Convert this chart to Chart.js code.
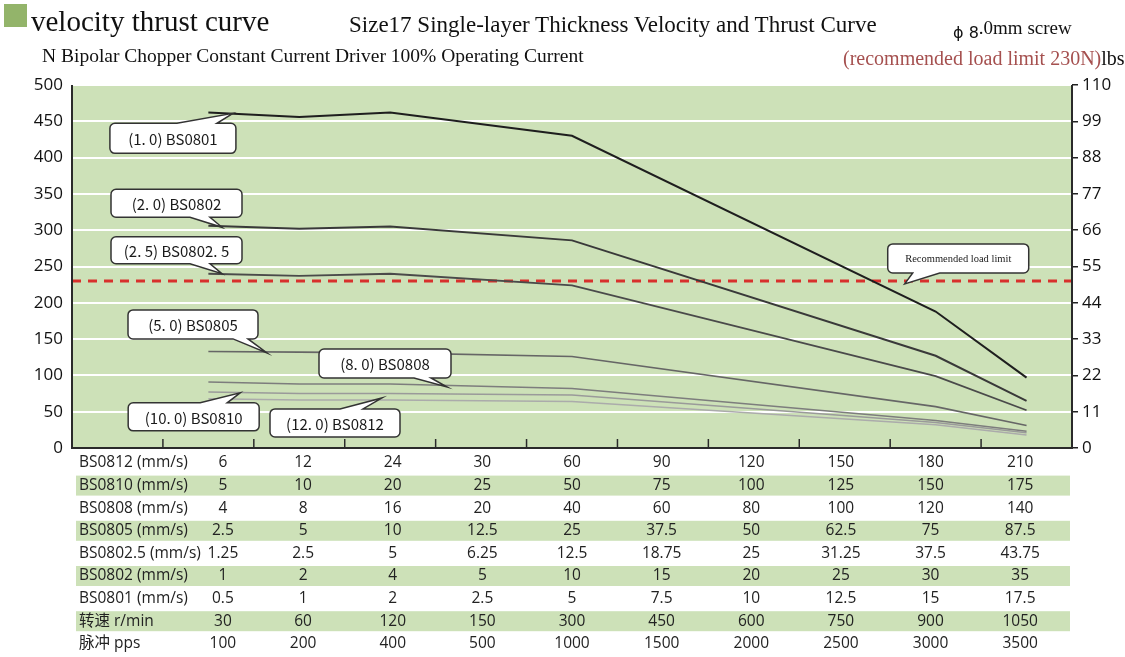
<!DOCTYPE html>
<html>
<head>
<meta charset="utf-8">
<script src="https://cdn.jsdelivr.net/npm/chart.js@4.4.1/dist/chart.umd.min.js"></script>
<style>
    html, body { margin: 0; padding: 0; background: #fff; }
    #wrap { position: relative; width: 1125px; height: 657px; overflow: hidden; }
    #chart { position: absolute; left: 0; top: 0; }
    .t { position: absolute; white-space: nowrap; line-height: 1; color: #111;
         font-family: "Liberation Serif", "Times New Roman", serif; }
    #sq { position: absolute; left: 4px; top: 4px; width: 23px; height: 23px; background: #93b46a; }
</style>
</head>
<body>
<div id="wrap">
    <canvas id="chart" width="1125" height="657"></canvas>
    <div id="sq"></div>
    <div class="t" style="left:31px; top:7px; font-size:29px;">velocity thrust curve</div>
    <div class="t" style="left:349px; top:13px; font-size:23px;">Size17 Single-layer Thickness Velocity and Thrust Curve</div>
    <div class="t" style="left:42px; top:46px; font-size:19.5px;">N Bipolar Chopper Constant Current Driver 100% Operating Current</div>
    <div class="t" style="left:953px; top:18px; font-size:19px;"><span style="font-family:'DejaVu Sans'; font-size:16px; position:relative; top:4px;">ϕ 8</span>.0mm screw</div>
    <div class="t" style="left:843px; top:48px; font-size:20px;"><span style="color:#a5504f;">(recommended load limit 230N)</span>lbs</div>
</div>
<script>
// ---- data ----
const xIndex = [0, 1, 2, 3, 4, 5, 6, 7, 8, 9];

// thrust (N) at each speed column, null where the curve has no vertex
const thrustBS0801  = [462, 456, 462, null, 430, null, null, null, 188, 97];
const thrustBS0802  = [306, 302, 305, null, 286, null, null, null, 127, 65];
const thrustBS08025 = [240, 237, 240, null, 224, null, null, null, 99, 52];
const thrustBS0805  = [133, 132, 131, null, 126, null, null, null, 57, 31];
const thrustBS0808  = [91, 88, 88, null, 82, null, null, null, 38, 23];
const thrustBS0810  = [77, 75, 75, null, 73, null, null, null, 35, 21];
const thrustBS0812  = [68, 66, 66, null, 64, null, null, null, 32, 18];
const loadLimitN = 230;

const leftTicks = [0, 50, 100, 150, 200, 250, 300, 350, 400, 450, 500];
const rightTicks = [0, 11, 22, 33, 44, 55, 66, 77, 88, 99, 110];

// table below the plot
const rowLabels = ["BS0812 (mm/s)", "BS0810 (mm/s)", "BS0808 (mm/s)", "BS0805 (mm/s)",
    "BS0802.5 (mm/s)", "BS0802 (mm/s)", "BS0801 (mm/s)", "转速 r/min", "脉冲 pps"];
const speedBS0812  = [6, 12, 24, 30, 60, 90, 120, 150, 180, 210];
const speedBS0810  = [5, 10, 20, 25, 50, 75, 100, 125, 150, 175];
const speedBS0808  = [4, 8, 16, 20, 40, 60, 80, 100, 120, 140];
const speedBS0805  = [2.5, 5, 10, 12.5, 25, 37.5, 50, 62.5, 75, 87.5];
const speedBS08025 = [1.25, 2.5, 5, 6.25, 12.5, 18.75, 25, 31.25, 37.5, 43.75];
const speedBS0802  = [1, 2, 4, 5, 10, 15, 20, 25, 30, 35];
const speedBS0801  = [0.5, 1, 2, 2.5, 5, 7.5, 10, 12.5, 15, 17.5];
const rpm          = [30, 60, 120, 150, 300, 450, 600, 750, 900, 1050];
const pps          = [100, 200, 400, 500, 1000, 1500, 2000, 2500, 3000, 3500];
const tableRows = [speedBS0812, speedBS0810, speedBS0808, speedBS0805, speedBS08025,
    speedBS0802, speedBS0801, rpm, pps];

const GREEN = "#cde1b8";

// callouts: tip in data units, box offset in px from the tip
const callouts = [
    { text: "(1. 0) BS0801",   x: 0.27, y: 461, dx: -123, dy: 10,  w: 126, h: 30, side: "top",    b1: 67, b2: 107 },
    { text: "(2. 0) BS0802",   x: 0.15, y: 304, dx: -111, dy: -38, w: 131, h: 28, side: "bottom", b1: 79, b2: 99 },
    { text: "(2. 5) BS0802. 5", x: 0.15, y: 240, dx: -111, dy: -37, w: 131, h: 27, side: "bottom", b1: 79, b2: 99 },
    { text: "(5. 0) BS0805",   x: 0.645, y: 131, dx: -139, dy: -43, w: 130, h: 29, side: "bottom", b1: 105, b2: 120 },
    { text: "(8. 0) BS0808",   x: 2.625, y: 84, dx: -128, dy: -38, w: 132, h: 29, side: "bottom", b1: 95, b2: 112 },
    { text: "(10. 0) BS0810",  x: 0.35, y: 76, dx: -112, dy: 10,  w: 131, h: 28, side: "top",    b1: 72, b2: 99 },
    { text: "(12. 0) BS0812",  x: 1.91, y: 69, dx: -112, dy: 11,  w: 130, h: 28, side: "top",    b1: 70, b2: 93 },
    { text: "Recommended load limit", x: 7.66, y: 226, dx: -17, dy: -40, w: 141, h: 29, side: "bottom", b1: 25, b2: 52, serif: true },
];

function series(vals) {
    return xIndex.map((x, i) => ({ x: x, y: vals[i] }));
}

function calloutPath(ctx, bx, by, w, h, r, c, tx, ty) {
    ctx.beginPath();
    ctx.moveTo(bx + r, by);
    if (c.side === "top") { ctx.lineTo(bx + c.b1, by); ctx.lineTo(tx, ty); ctx.lineTo(bx + c.b2, by); }
    ctx.lineTo(bx + w - r, by);
    ctx.arcTo(bx + w, by, bx + w, by + r, r);
    ctx.lineTo(bx + w, by + h - r);
    ctx.arcTo(bx + w, by + h, bx + w - r, by + h, r);
    if (c.side === "bottom") { ctx.lineTo(bx + c.b2, by + h); ctx.lineTo(tx, ty); ctx.lineTo(bx + c.b1, by + h); }
    ctx.lineTo(bx + r, by + h);
    ctx.arcTo(bx, by + h, bx, by + h - r, r);
    ctx.lineTo(bx, by + r);
    ctx.arcTo(bx, by, bx + r, by, r);
    ctx.closePath();
}

const plotBg = {
    id: "plotBg",
    beforeDraw(chart) {
        const { ctx, chartArea: a } = chart;
        ctx.save();
        ctx.fillStyle = GREEN;
        ctx.fillRect(a.left, a.top, a.right - a.left, a.bottom - a.top);
        ctx.restore();
    },
};

const frameAndNotes = {
    id: "frameAndNotes",
    afterDatasetsDraw(chart) {
        const { ctx, chartArea: a, scales } = chart;
        ctx.save();
        // axis frame
        ctx.strokeStyle = "#2a2a2a";
        ctx.lineWidth = 2;
        ctx.beginPath();
        ctx.moveTo(a.left, a.top); ctx.lineTo(a.left, a.bottom); ctx.lineTo(a.right, a.bottom); ctx.lineTo(a.right, a.top);
        ctx.stroke();
        // inward tick marks on the bottom axis
        ctx.lineWidth = 1.5;
        for (let i = 0; i < 10; i++) {
            const px = scales.x.getPixelForValue(i - 0.5);
            ctx.beginPath();
            ctx.moveTo(px, a.bottom); ctx.lineTo(px, a.bottom - 9);
            ctx.stroke();
        }
        // callouts
        callouts.forEach((c) => {
            const tx = scales.x.getPixelForValue(c.x);
            const ty = scales.y.getPixelForValue(c.y);
            const bx = tx + c.dx, by = ty + c.dy;
            calloutPath(ctx, bx, by, c.w, c.h, 5, c, tx, ty);
            ctx.fillStyle = "#fff";
            ctx.fill();
            ctx.strokeStyle = "#333";
            ctx.lineWidth = 1.5;
            ctx.stroke();
            ctx.fillStyle = "#1a1a1a";
            ctx.textAlign = "center";
            ctx.textBaseline = "middle";
            ctx.font = c.serif ? '10.5px "Liberation Serif"' : '15px "Noto Sans CJK JP", "Noto Sans"';
            ctx.fillText(c.text, bx + c.w / 2, by + c.h / 2 + 1);
        });
        ctx.restore();
    },
    afterDraw(chart) {
        const { ctx, scales } = chart;
        const rowTop = 463, rowH = 22.6;
        const x4 = scales.x.getPixelForValue(4);
        const colX = (i) => i === 0 ? scales.x.getPixelForValue(0.16)
            : x4 + (scales.x.getPixelForValue(i) - x4) * 0.986;
        ctx.save();
        ctx.textBaseline = "middle";
        ctx.font = '15.5px "Open Sans", "Noto Sans CJK SC"';
        tableRows.forEach((vals, r) => {
            const cy = rowTop + r * rowH;
            if (r % 2 === 1) {
                ctx.fillStyle = GREEN;
                ctx.fillRect(76, cy - 10, 994, 20);
            }
            ctx.fillStyle = "#222";
            ctx.textAlign = "left";
            ctx.fillText(rowLabels[r], 79, cy);
            ctx.textAlign = "center";
            vals.forEach((v, i) => {
                ctx.fillText(String(v), colX(i), cy);
            });
        });
        ctx.restore();
    },
};

const tickFont = { family: "Open Sans", size: 17 };

new Chart(document.getElementById("chart"), {
    type: "line",
    data: {
        datasets: [
            { data: series(thrustBS0812), borderColor: "#ababab", borderWidth: 1.5 },
            { data: series(thrustBS0810), borderColor: "#9a9a9a", borderWidth: 1.5 },
            { data: series(thrustBS0808), borderColor: "#7d7d7d", borderWidth: 1.5 },
            { data: series(thrustBS0805), borderColor: "#666666", borderWidth: 1.6 },
            { data: series(thrustBS08025), borderColor: "#4a4a4a", borderWidth: 1.8 },
            { data: series(thrustBS0802), borderColor: "#393939", borderWidth: 2 },
            { data: series(thrustBS0801), borderColor: "#1e1e1e", borderWidth: 2 },
            {
                data: [{ x: -1.5, y: loadLimitN }, { x: 9.5, y: loadLimitN }],
                borderColor: "#d8302c", borderWidth: 3, borderDash: [9, 7],
            },
        ],
    },
    options: {
        responsive: false,
        animation: false,
        spanGaps: true,
        elements: { point: { radius: 0 }, line: { tension: 0 } },
        layout: { padding: { top: 85, bottom: 209, left: 0, right: 0 } },
        plugins: { legend: { display: false }, tooltip: { enabled: false } },
        scales: {
            x: { type: "linear", min: -1.5, max: 9.5, display: false },
            y: {
                position: "left", min: 0, max: 500,
                afterBuildTicks: (s) => { s.ticks = leftTicks.map((v) => ({ value: v })); },
                ticks: { color: "#111", font: tickFont, padding: 9 },
                grid: { color: "#ffffff", lineWidth: 2, drawTicks: false },
                border: { display: false },
                afterFit: (s) => { s.width = 72; },
            },
            y2: {
                position: "right", min: 0, max: 110,
                afterBuildTicks: (s) => { s.ticks = rightTicks.map((v) => ({ value: v })); },
                ticks: { color: "#111", font: tickFont, padding: 4 },
                grid: { drawOnChartArea: false, color: "#222", lineWidth: 1.5, tickLength: 6 },
                border: { display: false },
                afterFit: (s) => { s.width = 53; },
            },
        },
    },
    plugins: [plotBg, frameAndNotes],
});
</script>
</body>
</html>
